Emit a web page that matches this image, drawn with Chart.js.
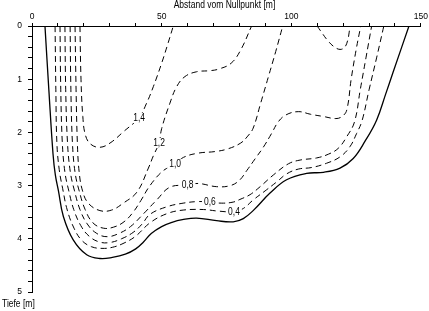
<!DOCTYPE html>
<html>
<head>
<meta charset="utf-8">
<script src="https://cdn.jsdelivr.net/npm/chart.js@4.4.1/dist/chart.umd.min.js"></script>
<style>
  html, body { margin: 0; padding: 0; background: #fff; }
  canvas { display: block; }
</style>
</head>
<body>
<canvas id="profil" width="429" height="311"></canvas>
<script>
// Sohle (Gewässerbett), [Abstand m, Tiefe m]
const sohle = [[5, 0], [6.5, 1.2], [8.1, 2.4], [9.0, 2.8], [10.2, 3.1], [12.1, 3.58], [15.9, 4.02], [21.1, 4.3], [26.2, 4.37], [31, 4.35], [36, 4.29], [40, 4.19], [43, 4.06], [46, 3.9], [50, 3.77], [54, 3.69], [58, 3.64], [63.5, 3.61], [71.2, 3.66], [77.6, 3.68], [81.5, 3.62], [85.3, 3.47], [91.8, 3.14], [98.2, 2.89], [105.9, 2.77], [112.4, 2.75], [118.8, 2.67], [123.9, 2.49], [128.4, 2.17], [132.9, 1.77], [136.4, 1.28], [139.2, 0.88], [145.4, 0]];

// Isotachen (Linien gleicher Geschwindigkeit)
const iso04 = [[8.9, 0], [9.2, 1.2], [9.6, 2.2], [10.5, 2.7], [11.8, 3.05], [13.6, 3.46], [16.2, 3.8], [19.2, 4.03], [23, 4.15], [27, 4.18], [31, 4.16], [35.5, 4.08], [40, 3.95], [45.5, 3.7], [51.9, 3.53], [58.3, 3.46], [66.1, 3.45], [72, 3.48], [77.9, 3.49], [81.5, 3.43], [85.3, 3.27], [89.9, 3.1], [94.4, 2.93], [98.2, 2.78], [102.7, 2.69], [107.9, 2.66], [113.6, 2.58], [118.8, 2.46], [122.6, 2.27], [125.2, 2.02], [127.3, 1.78], [130, 1.2], [132.9, 0.6], [135.7, 0]];
const iso06 = [[10.8, 0], [11.1, 1.2], [11.7, 2.2], [12.7, 2.75], [14.2, 3.1], [16.1, 3.45], [18.8, 3.75], [22, 3.95], [26, 4.06], [30, 4.07], [34.5, 4.0], [39, 3.88], [42.5, 3.72], [45.5, 3.54], [51.9, 3.4], [58.3, 3.33], [64.1, 3.3], [68.6, 3.31], [73.2, 3.33], [77.6, 3.31], [80.2, 3.26], [84.1, 3.17], [88, 3.02], [93.1, 2.8], [98.9, 2.59], [103.4, 2.52], [109.8, 2.48], [114.3, 2.41], [118.1, 2.3], [121.4, 2.08], [124.4, 1.8], [126.6, 1.2], [128.8, 0.6], [131, 0]];
const iso08 = [[12.7, 0], [13.0, 1.2], [13.7, 2.2], [14.8, 2.75], [16.4, 3.1], [18.5, 3.45], [21.3, 3.72], [25, 3.9], [29, 3.96], [33.5, 3.9], [38, 3.77], [43, 3.53], [48.1, 3.27], [53.2, 3.03], [60, 2.99], [64.1, 2.96], [71.2, 3.02], [76.5, 3.0], [80, 2.9], [82.8, 2.72], [86, 2.5], [89.2, 2.28], [92.4, 2.02], [95, 1.8], [98, 1.67], [102.7, 1.61], [107.5, 1.66], [112.3, 1.7], [117.2, 1.74], [119.6, 1.7], [121.4, 1.58], [123.1, 1.0], [125, 0.45], [126.8, 0]];
const iso10 = [[14.7, 0], [15.0, 1.2], [15.6, 2.2], [16.6, 2.75], [18.2, 3.1], [20.5, 3.45], [23.5, 3.7], [27.5, 3.8], [31.5, 3.78], [35.5, 3.68], [39, 3.5], [42, 3.28], [45.5, 3.0], [50.6, 2.72], [55.2, 2.6], [58.4, 2.47], [64.1, 2.39], [70.6, 2.36], [75.5, 2.31], [80.5, 2.2], [83.2, 2.07], [85.3, 1.92], [88.2, 1.45], [91.2, 0.95], [94, 0.48], [96.7, 0]];
const iso10b = [[110, 0], [112, 0.14], [114, 0.27], [116.5, 0.39], [118.8, 0.44], [120.6, 0.4], [121.7, 0.28], [122.3, 0.13], [122.6, 0]];
const iso12 = [[16.6, 0], [17.0, 1.2], [17.5, 2.2], [18.2, 2.75], [19.5, 3.1], [21.7, 3.33], [26.2, 3.47], [30.7, 3.46], [35.2, 3.33], [40.5, 3.12], [44.9, 2.67], [46.8, 2.44], [49, 2.2], [50, 1.93], [53.2, 1.45], [55.8, 1.14], [59, 0.95], [63.5, 0.86], [68.6, 0.84], [72, 0.81], [76.8, 0.7], [80.5, 0.45], [84.7, 0]];
const iso14 = [[18.5, 0], [18.9, 1.0], [19.6, 1.7], [20.6, 2.05], [22.6, 2.22], [26.2, 2.28], [30.1, 2.2], [35.2, 1.99], [41.3, 1.72], [44.2, 1.45], [46.8, 1.14], [50, 0.7], [52.3, 0.35], [54.5, 0]];

// Beschriftung der Isotachen (Lage in Datenkoordinaten)
const isoTexte = ['0,4', '0,6', '0,8', '1,0', '1,2', '1,4'];
const isoTextX = [77.9, 68.6, 60, 55.2, 49, 41.3];
const isoTextY = [3.5, 3.31, 2.99, 2.6, 2.2, 1.73];

const schrift = "'Liberation Sans', Arial, sans-serif";
// schmale Schrift nachbilden (horizontal gestaucht)
const stauchung = 0.85;

function punkte(liste) {
	return liste.map((p) => ({ x: p[0], y: p[1] }));
}

function gestrichelt(liste) {
	return {
		data: punkte(liste),
		showLine: true,
		borderColor: '#000',
		borderWidth: 1,
		borderDash: [6, 4],
		pointRadius: 0,
		tension: 0.4,
		fill: false,
	};
}

function schmalerText(ctx, text, x, y) {
	ctx.save();
	ctx.translate(x, y);
	ctx.scale(stauchung, 1);
	ctx.fillText(text, 0, 0);
	ctx.restore();
}

// Beschriftungen mit weißem Hintergrund, damit die Linie unterbrochen wirkt
const beschriftung = {
	id: 'beschriftung',
	afterDatasetsDraw(chart) {
		const ctx = chart.ctx;
		const sx = chart.scales.x;
		const sy = chart.scales.y;
		ctx.save();
		ctx.font = '10px ' + schrift;
		ctx.textAlign = 'center';
		ctx.textBaseline = 'middle';
		for (let i = 0; i < isoTexte.length; i++) {
			const px = sx.getPixelForValue(isoTextX[i]);
			const py = sy.getPixelForValue(isoTextY[i]);
			const w = ctx.measureText(isoTexte[i]).width * stauchung;
			ctx.fillStyle = '#fff';
			ctx.fillRect(px - w / 2 - 2, py - 5, w + 4, 10);
			ctx.fillStyle = '#000';
			schmalerText(ctx, isoTexte[i], px, py);
		}
		// Achsentitel
		const mitte = (chart.chartArea.left + chart.chartArea.right) / 2;
		schmalerText(ctx, 'Abstand vom Nullpunkt [m]', mitte - 2, 5.5);
		ctx.textAlign = 'left';
		schmalerText(ctx, 'Tiefe [m]', 2, 304);
		ctx.restore();
	},
};

new Chart(document.querySelector('#profil'), {
	type: 'scatter',
	data: {
		datasets: [
			{
				data: punkte(sohle),
				showLine: true,
				borderColor: '#000',
				borderWidth: 1.3,
				pointRadius: 0,
				tension: 0.4,
				fill: false,
			},
			gestrichelt(iso04),
			gestrichelt(iso06),
			gestrichelt(iso08),
			gestrichelt(iso10),
			gestrichelt(iso10b),
			gestrichelt(iso12),
			gestrichelt(iso14),
		],
	},
	options: {
		responsive: false,
		animation: false,
		devicePixelRatio: 1,
		layout: { padding: { top: 0, left: 0, right: 8, bottom: 19 } },
		plugins: { legend: { display: false }, tooltip: { enabled: false } },
		scales: {
			x: {
				type: 'linear',
				position: 'top',
				min: 0,
				max: 150,
				ticks: {
					stepSize: 10,
					autoSkip: false,
					maxRotation: 0,
					padding: 1,
					color: '#000',
					font: { family: schrift, size: 8.5 },
					callback: (v) => (v % 50 === 0 ? v : ''),
				},
				grid: { drawOnChartArea: false, tickLength: 3, color: '#000' },
				border: { color: '#000', width: 1 },
				afterFit: (s) => {
					s.height = 26;
				},
			},
			y: {
				type: 'linear',
				reverse: true,
				min: 0,
				max: 5,
				ticks: {
					stepSize: 0.2,
					autoSkip: false,
					padding: 6,
					color: '#000',
					font: { family: schrift, size: 8.5 },
					callback: (v) => (Math.abs(v - Math.round(v)) < 1e-6 ? Math.round(v) : ''),
				},
				grid: { drawOnChartArea: false, tickLength: 4, color: '#000' },
				border: { color: '#000', width: 1 },
				afterFit: (s) => {
					s.width = 32;
				},
			},
		},
	},
	plugins: [beschriftung],
});
</script>
</body>
</html>
